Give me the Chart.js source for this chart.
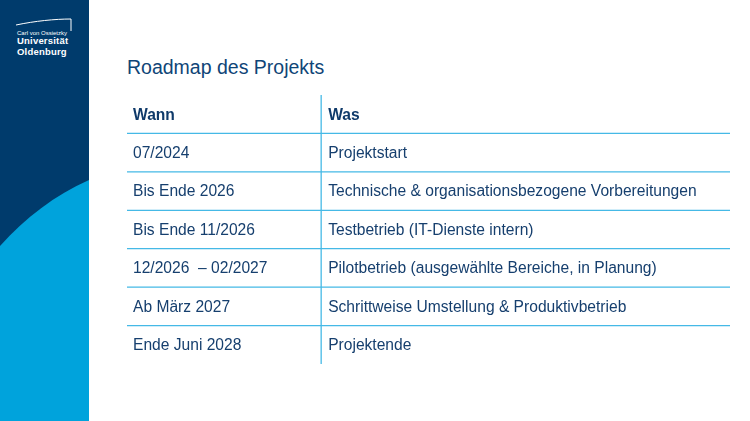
<!DOCTYPE html>
<html><head><meta charset="utf-8">
<script src="https://cdn.jsdelivr.net/npm/chart.js"></script>
<style>
body{margin:0;width:750px;height:421px;position:relative;overflow:hidden;background:#fff;font-family:"Liberation Sans",Arial,sans-serif}
#side{position:absolute;left:0;top:0;width:89px;height:421px}
#logo{position:absolute;left:17px;top:30px;color:#fff;line-height:1.08}
#title{position:absolute;left:127px;top:56px;font-size:19.5px;color:#0f4577}
#wrap{position:absolute;left:127px;top:95px;width:603px;height:269px}
</style></head><body>
<svg id="side" width="89" height="421"><rect width="89" height="421" fill="#003b6c"/>
<path d="M0 246 C25 218 55 195 89 180 L89 421 L0 421 Z" fill="#00a3dc"/>
<path d="M16 25 C35 21 55 19 71 19 L71 31" stroke="#fff" stroke-width="1" fill="none"/></svg>
<div id="logo"><div style="font-size:6px">Carl von Ossietzky</div><div style="font-size:9.5px;font-weight:bold;letter-spacing:0.2px">Universität<br>Oldenburg</div></div>
<div id="title">Roadmap des Projekts</div>
<div id="wrap"><canvas id="c"></canvas></div>
<script>
let headers = ["Wann", "Was"];
let wann = ["07/2024", "Bis Ende 2026", "Bis Ende 11/2026", "12/2026  – 02/2027", "Ab März 2027", "Ende Juni 2028"];
let was = ["Projektstart", "Technische & organisationsbezogene Vorbereitungen", "Testbetrieb (IT-Dienste intern)", "Pilotbetrieb (ausgewählte Bereiche, in Planung)", "Schrittweise Umstellung & Produktivbetrieb", "Projektende"];

let rows = [headers[0]].concat(wann);

// draws the table text and rules from the scales
let tablePlugin = {
  id: "table",
  afterDraw(chart) {
    let ctx = chart.ctx, y = chart.scales.y, x = chart.scales.x;
    let left = x.getPixelForValue(0), right = x.getPixelForValue(1), mid = x.getPixelForValue(0.322);
    let half = (y.getPixelForValue(1) - y.getPixelForValue(0)) / 2;
    ctx.save();
    ctx.strokeStyle = "#45b9e6";
    ctx.lineWidth = 1.3;
    for (let i = 0; i < rows.length - 1; i++) {
      let yy = y.getPixelForValue(i) + half;
      ctx.beginPath(); ctx.moveTo(left, yy); ctx.lineTo(right, yy); ctx.stroke();
    }
    ctx.beginPath();
    ctx.moveTo(mid, y.getPixelForValue(0) - half);
    ctx.lineTo(mid, y.getPixelForValue(rows.length - 1) + half);
    ctx.stroke();
    ctx.textBaseline = "middle";
    for (let i = 0; i < rows.length; i++) {
      let yy = y.getPixelForValue(i) + 1;
      if (i === 0) {
        ctx.font = "bold 15.6px 'Liberation Sans'";
        ctx.fillStyle = "#0f3a6a";
        ctx.fillText(headers[0], left + 6, yy);
        ctx.fillText(headers[1], mid + 7, yy);
      } else {
        ctx.font = "15.6px 'Liberation Sans'";
        ctx.fillStyle = "#163f6e";
        ctx.fillText(wann[i - 1], left + 6, yy);
        ctx.fillText(was[i - 1], mid + 7, yy);
      }
    }
    ctx.restore();
  }
};

new Chart(document.getElementById("c"), {
  type: "bar",
  data: { labels: rows, datasets: [{ data: [], indexAxis: "y" }] },
  options: {
    indexAxis: "y",
    responsive: true,
    maintainAspectRatio: false,
    animation: false,
    layout: { padding: 0 },
    plugins: { legend: { display: false }, tooltip: { enabled: false } },
    scales: {
      x: { min: 0, max: 1, display: false },
      y: { type: "category", display: false, offset: true }
    }
  },
  plugins: [tablePlugin]
});
</script>
</body></html>
